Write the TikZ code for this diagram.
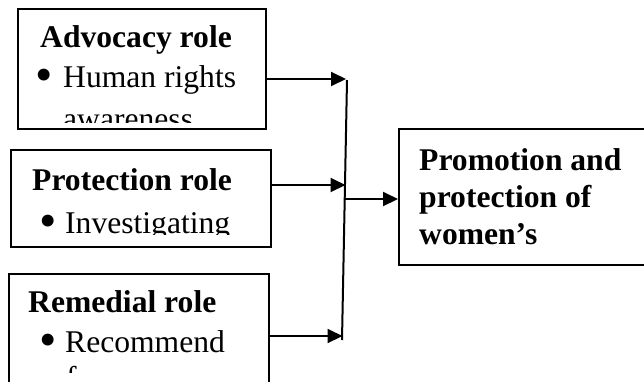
\documentclass[tikz,border=0pt]{standalone}
\usepackage{fontspec}
\setmainfont{Liberation Serif}
\usetikzlibrary{arrows.meta}
\newcommand{\bigbul}{\raisebox{-4.6pt}{\scalebox{1.57}{•}}}
\tikzset{
  box/.style={draw, line width=1.8pt, inner sep=0pt, anchor=north west},
  txt/.style={anchor=base west, inner sep=0pt, font=\fontsize{31.6}{37}\selectfont},
  btxt/.style={txt, font=\fontsize{31.6}{37}\selectfont\bfseries},
  conn/.style={line width=2pt, -{Triangle[length=15pt,width=14pt]}},
  vline/.style={line width=2pt}
}
\begin{document}
\begin{tikzpicture}[x=1pt,y=-1pt]
\clip (0,0) rectangle (644,381);
\fill[white] (0,0) rectangle (644,381);
% boxes
\node[box, minimum width=248pt, minimum height=120pt] (b1) at (17,8) {};
\node[box, minimum width=260pt, minimum height=97pt] (b2) at (10,149) {};
\node[box, minimum width=260pt, minimum height=130pt] (b3) at (8,273) {};
\node[box, minimum width=260pt, minimum height=136pt] (b4) at (398,128) {};
% texts box 1
\begin{scope}
\clip (17,8) rectangle (265,122);
\node[btxt] (a1) at (40,47) {Advocacy role};
\node[txt] (a2) at (35.5,87) {\bigbul};
\node[txt] (a3) at (63,87) {Human rights};
\node[txt] (a4) at (63,129) {awareness};
\end{scope}
% texts box 2
\begin{scope}
\clip (10,149) rectangle (270,234.5);
\node[btxt] (p1) at (32,190) {Protection role};
\node[txt] (p2) at (39.5,233) {\bigbul};
\node[txt] (p3) at (65,233) {Investigating};
\end{scope}
% texts box 3
\begin{scope}
\clip (8,273) rectangle (268,372);
\node[btxt] (r1) at (28,312) {Remedial role};
\node[txt] (r2) at (39.5,352) {\bigbul};
\node[txt] (r3) at (65,352) {Recommend};
\node[txt] (r4) at (66,388) {f};
\end{scope}
% box 4 text
\node[btxt] (w1) at (419,170) {Promotion and};
\node[btxt] (w2) at (419,207) {protection of};
\node[btxt] (w3) at (419,244) {women’s};
% vertical collector line
\coordinate (vt) at (347,80);
\coordinate (vb) at (342,340);
\draw[vline] (vt) -- (vb);
\coordinate (e1) at (346,79);
\coordinate (e2) at (345.5,185);
\coordinate (e3) at (342.5,336);
\coordinate (s4) at (345,199);
\draw[conn] (b1.east |- e1) -- (e1);
\draw[conn] (b2.east |- e2) -- (e2);
\draw[conn] (b3.east |- e3) -- (e3);
\draw[conn] (s4) -- (b4.west |- s4);
\end{tikzpicture}
\end{document}
